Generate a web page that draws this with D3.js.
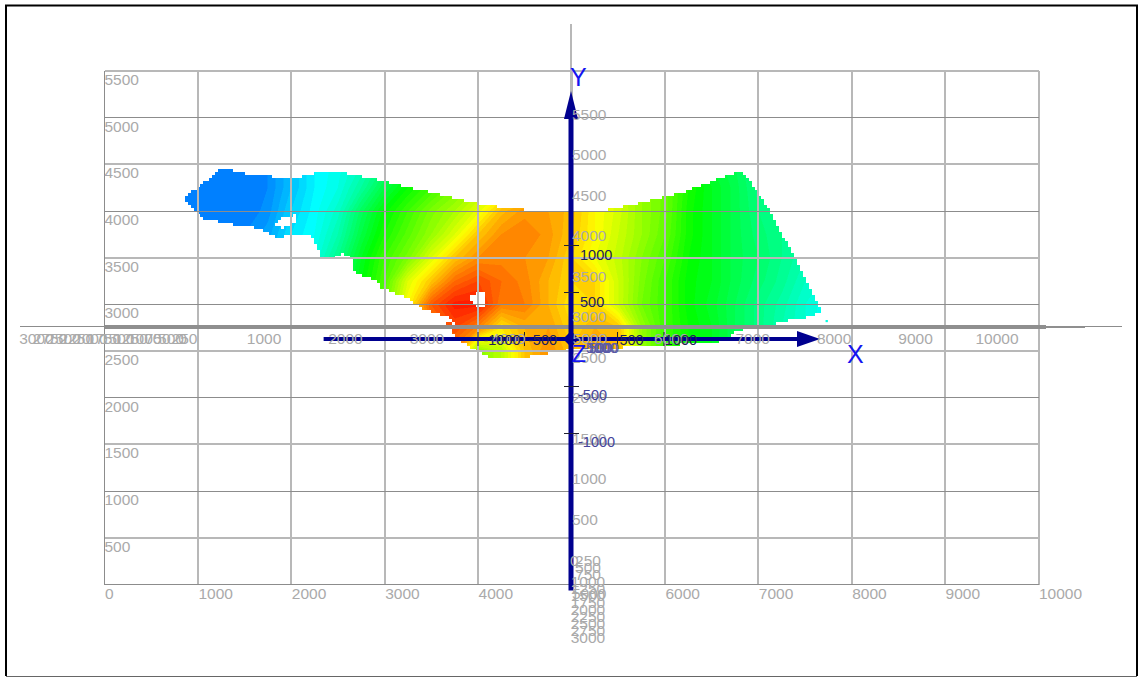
<!DOCTYPE html>
<html><head><meta charset="utf-8">
<script src="https://cdn.jsdelivr.net/npm/d3@7/dist/d3.min.js"></script>
<style>html,body{margin:0;padding:0;background:#fff}svg{display:block}text{font-family:"Liberation Sans",Arial,sans-serif}</style>
</head><body><svg id="c" width="1138" height="677"></svg>
<script>
// survey outline in plan coordinates [x, y]
const outline = [[846,4139],[1263,4460],[1403,4428],[1617,4374],[2099,4364],[2259,4406],[2580,4406],[2955,4332],[3383,4225],[3919,4096],[4347,4021],[4989,4000],[5310,4000],[5739,4086],[6167,4193],[6542,4332],[6788,4417],[6863,4385],[7131,3989],[7345,3583],[7505,3262],[7645,2984],[7677,2909],[7505,2856],[7238,2813],[7131,2770],[6809,2727],[6542,2588],[5846,2556],[5310,2524],[4989,2513],[4722,2471],[4454,2428],[4133,2428],[4026,2481],[3844,2588],[3726,2706],[3672,2781],[3672,2813],[3769,2780],[3704,2856],[3383,2963],[3276,3059],[2955,3177],[2987,3149],[2919,3243],[2680,3350],[2660,3490],[2553,3540],[2446,3490],[2328,3490],[2232,3725],[2125,3735],[2018,3746],[1900,3725],[1846,3725],[1664,3810],[1557,3832],[1450,3842],[1235,3885],[1054,3917],[953,4021]];
const holes = [
  [[1895,3918],[2035,3960],[2035,3875],[1895,3810],[1835,3850]],
  [[3925,3085],[3990,3125],[4075,3115],[4090,3040],[4060,2985],[3975,2985],[3925,3030]]
];
const speck = [[7720,2833],[7745,2833],[7745,2810],[7720,2810]];
// colour field, 0 = blue ... 100 = red
const fieldX0 = 750, fieldTop = 4500, fieldStep = 250;
const field = [
[0,0,0,0,2,8,14,17,22,30,38,46,52,58,64,70,76,76,72,66,58,52,43,38,34,28,26,22,20],
[1,1,0,0,2,8,14,18,26,36,44,50,56,62,68,74,78,77,72,66,60,55,46,40,35,29,27,24,22],
[2,1,0,0,3,10,15,21,33,43,50,57,62,69,79,83,82,79,72,67,60,55,45,40,35,30,27,24,22],
[3,2,1,2,5,12,16,24,36,46,53,60,68,78,84,86,83,78,72,66,60,54,45,40,35,31,28,25,22],
[3,3,3,3,7,13,18,28,40,50,57,68,78,84,85,84,82,76,70,65,58,52,44,40,35,32,28,24,21],
[3,3,3,3,7,14,20,30,42,52,68,78,88,92,88,85,80,76,76,66,57,50,43,40,35,31,27,22,19],
[3,3,3,3,7,14,20,30,42,55,72,90,97,97,86,86,80,74,76,66,56,50,43,39,34,29,25,20,16],
[3,3,3,3,7,14,20,30,42,55,66,86,92,85,74,80,82,76,80,78,60,50,44,40,34,29,24,20,16],
[3,3,3,3,7,14,20,30,42,55,66,82,84,58,64,78,84,78,82,80,60,50,44,40,34,29,24,20,16],
[3,3,3,3,7,14,20,30,42,55,66,82,84,58,64,78,84,78,82,80,60,50,44,40,34,29,24,20,16]
];
const planXTicks = [0,1000,2000,3000,4000,5000,6000,7000,8000,9000,10000];
const planYTicks = [500,1000,1500,2000,2500,3000,3500,4000,4500,5000,5500];
const floorXLabels = [1000,2000,3000,4000,5000,6000,7000,8000,9000,10000];
const depthLabels = [250,500,750,1000,1250,1500,1750,2000,2250,2500,2750,3000];
const wallYLabels = [500,1000,1500,2000,2500,3000,3500,4000,4500,5000,5500];
const axisTicks = [-1000,-500,500,1000];
const axisXExtent = [-2660,2516], axisYExtent = [-2670,2420];

const svg = d3.select("#c");
const x = d3.scaleLinear().domain([0,10000]).range([104.5,1038.5]);
const y = d3.scaleLinear().domain([0,5500]).range([584.5,71]);
const ax = d3.scaleLinear().domain([-1000,1000]).range([478,664]);
const ay = d3.scaleLinear().domain([-1000,1000]).range([433.5,245.5]);
const floorX = d3.scaleLinear().domain([0,10000]).range([182.6,997]);
const floorDepth = d3.scaleLinear().domain([250,3000]).range([184.5,36.5]);
const wallY = d3.scaleLinear().domain([0,5500]).range([560,114]);
const wallDepth = d3.scaleLinear().domain([250,3000]).range([560,637]);
const hue = d3.scaleLinear().domain([0,100]).range([212,0]);
const color = v => d3.hsl(hue(v),1,0.5).formatRgb();
const line = d3.line().x(d=>x(d[0])).y(d=>y(d[1])).curve(d3.curveLinearClosed);

// frame
svg.append("path").attr("d",d3.line()([[6,676],[6,5.5],[1137,5.5],[1137,676]]))
   .attr("fill","none").attr("stroke","#000").attr("stroke-width",2);
svg.append("line").attr("x1",6).attr("x2",1137).attr("y1",676.5).attr("y2",676.5).attr("stroke","#666");

// stepped footprint of the raster cells that hold data
const cell = 3;
const toPx = ring => ring.map(d=>[x(d[0]),y(d[1])]);
const shapePx = toPx(outline), holesPx = holes.map(toPx);
let cellPath = "";
for (let py = 160; py < 364; py += cell) for (let px = 176; px < 832; px += cell) {
  const c = [px+cell/2, py+cell/2];
  if (d3.polygonContains(shapePx,c) && !holesPx.some(h=>d3.polygonContains(h,c)))
    cellPath += `M${px},${py}h${cell}v${cell}h${-cell}z`;
}
svg.append("clipPath").attr("id","shape").append("path").attr("d",cellPath);

// heat field
const nx = field[0].length, ny = field.length;
const levels = d3.range(0,100,2);
const contours = d3.contours().size([nx,ny]).thresholds(levels).smooth(true)(field.flat());
const path = d3.geoPath(d3.geoTransform({point(gx,gy){
  this.stream.point(x(fieldX0+(gx-0.5)*fieldStep), y(fieldTop-(gy-0.5)*fieldStep));
}}));
svg.append("g").attr("clip-path","url(#shape)").selectAll("path").data(contours).join("path")
   .attr("d",path).attr("fill",d=>color(d.value+1)).attr("stroke",d=>color(d.value+1))
   .attr("stroke-width",0.5).attr("shape-rendering","crispEdges");
svg.append("path").attr("d",line(speck)).attr("fill",color(18));

// plan grid
const gridG = svg.append("g").attr("shape-rendering","crispEdges");
gridG.selectAll(".v").data(planXTicks).join("line").attr("class","v")
  .attr("x1",d=>x(d)).attr("x2",d=>x(d)).attr("y1",y(5500)).attr("y2",y(0))
  .attr("stroke",d=>d===0?"#8c8c8c":"#b8b8b8").attr("stroke-width",d=>d===0?1:2);
gridG.selectAll(".h").data([0].concat(planYTicks)).join("line").attr("class","h")
  .attr("x1",x(0)).attr("x2",x(10000)).attr("y1",d=>y(d)).attr("y2",d=>y(d))
  .attr("stroke",d=>d%1000===0?"#8c8c8c":"#b8b8b8").attr("stroke-width",d=>d%1000===0?1:2);

// edge-on planes
gridG.append("line").attr("x1",20).attr("x2",1122).attr("y1",326).attr("y2",326).attr("stroke","#8c8c8c");
gridG.append("line").attr("x1",x(0)).attr("x2",1046).attr("y1",327).attr("y2",327).attr("stroke","#8f8f8f").attr("stroke-width",4);
gridG.append("line").attr("x1",1046).attr("x2",1085).attr("y1",326.5).attr("y2",326.5).attr("stroke","#8f8f8f").attr("stroke-width",2);
gridG.append("line").attr("x1",571).attr("x2",571).attr("y1",24).attr("y2",590).attr("stroke","#b8b8b8").attr("stroke-width",2);

// blue axes
const navy = "#00008f";
const axG = svg.append("g");
axG.append("line").attr("x1",ax(axisXExtent[0])).attr("x2",ax(axisXExtent[1])).attr("y1",ay(0)-0.5).attr("y2",ay(0)-0.5)
   .attr("stroke",navy).attr("stroke-width",4);
axG.append("line").attr("x1",ax(0)).attr("x2",ax(0)).attr("y1",ay(axisYExtent[0])).attr("y2",ay(axisYExtent[1]))
   .attr("stroke",navy).attr("stroke-width",5);
const tipX = ax(axisXExtent[1]), tipY = ay(axisYExtent[1]), ox = ax(0), oy = ay(0)-0.5;
axG.append("path").attr("d",d3.line()([[tipX-8,oy-8],[tipX+15,oy],[tipX-8,oy+8]])).attr("fill",navy);
axG.append("path").attr("d",d3.line()([[ox-7,tipY+7],[ox,tipY-21],[ox+7,tipY+7]])).attr("fill",navy);
axG.append("path").attr("d",d3.line()([[ox-8,oy],[ox,oy-8],[ox+8,oy],[ox,oy+8]])).attr("fill",navy);
axG.selectAll(".tx").data(axisTicks).join("line").attr("class","tx")
   .attr("x1",d=>ax(d)).attr("x2",d=>ax(d)).attr("y1",oy-7).attr("y2",oy+7).attr("stroke","#223").attr("stroke-width",1);
axG.selectAll(".ty").data(axisTicks).join("line").attr("class","ty")
   .attr("y1",d=>ay(d)).attr("y2",d=>ay(d)).attr("x1",ox-7).attr("x2",ox+8).attr("stroke","#223").attr("stroke-width",1);

// plan axes labels through d3 axes
const labelColor = "#aaa", labelSize = 15.5;
const styleAxis = g => { g.select(".domain").remove(); g.selectAll(".tick line").remove();
  g.selectAll("text").attr("fill",labelColor).attr("font-size",labelSize).attr("font-family",'"Liberation Sans",Arial,sans-serif').attr("text-anchor","start"); };
svg.append("g").attr("transform",`translate(0,${y(0)})`)
   .call(d3.axisBottom(x).tickValues(planXTicks).tickFormat(d3.format("d")).tickSize(0))
   .call(styleAxis).call(g=>g.selectAll("text").attr("y",0).attr("dy","14")) ;
svg.append("g").attr("transform",`translate(${x(0)},0)`)
   .call(d3.axisLeft(y).tickValues(planYTicks).tickFormat(d3.format("d")).tickSize(0))
   .call(styleAxis).call(g=>g.selectAll("text").attr("x",0).attr("dy","13.5"));

function labels(data,fx,fy,anchor,fill,size){
  svg.append("g").selectAll("text").data(data).join("text")
    .attr("x",fx).attr("y",fy).attr("text-anchor",anchor).attr("dominant-baseline","central")
    .attr("fill",fill).attr("font-size",size).text(d=>d);
}
labels(floorXLabels,d=>floorX(d),338,"middle",labelColor,labelSize);
labels([0],()=>floorX(0),338,"middle",labelColor,labelSize);
labels(depthLabels,d=>floorDepth(d),338,"middle",labelColor,labelSize);
labels(wallYLabels,()=>572,d=>wallY(d),"start",labelColor,labelSize);
labels([0],()=>570,()=>wallY(0),"start",labelColor,labelSize);
labels(depthLabels,()=>588,d=>wallDepth(d),"middle",labelColor,labelSize);

// blue axis labels
labels(axisTicks.filter(d=>d<0),d=>ax(d)+(d===-1000?24:18),oy+1,"middle","#222255",14.5);
labels(axisTicks.filter(d=>d>0),d=>ax(d)+(d===1000?17:14),oy+1,"middle","#222255",14.5);
labels(axisTicks.filter(d=>d>0),()=>580,d=>ay(d)+9,"start","#222255",14.5);
labels(axisTicks.filter(d=>d<0),()=>578,d=>ay(d)+8,"start","#44449a",14.5);
labels(axisTicks,(d,i)=>582+i*2,()=>348,"start","#5a5aa8",14);

// axis names
const names = ["X","Y","Z"];
const nameX = [847,570,572], nameY = [363,86,362], nameSize=[25,25,23];
svg.append("g").selectAll("text").data(names).join("text")
   .attr("x",(d,i)=>nameX[i]).attr("y",(d,i)=>nameY[i]).attr("font-size",(d,i)=>nameSize[i])
   .attr("fill","#1414f0").text(d=>d);
</script></body></html>
